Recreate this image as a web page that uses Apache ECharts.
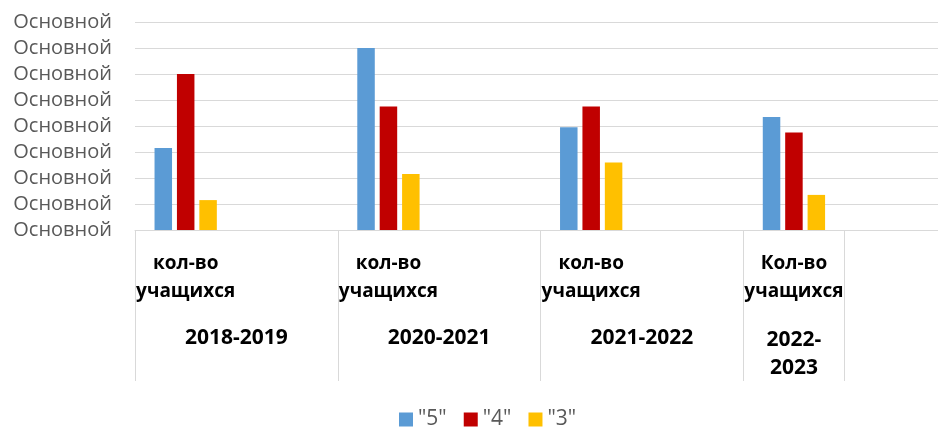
<!DOCTYPE html>
<html>
<head>
<meta charset="utf-8">
<script src="https://cdn.jsdelivr.net/npm/echarts@6/dist/echarts.min.js"></script>
<style>
  html, body { margin: 0; padding: 0; background: #fff; }
  #chart { width: 938px; height: 427px; }
</style>
</head>
<body>
<div id="chart"></div>
<script>
// данные с картинки
const years = ['2018-2019', '2020-2021', '2021-2022', '2022-2023']
const captions = ['кол-во', 'кол-во', 'кол-во', 'Кол-во']
const seriesNames = ['"5"', '"4"', '"3"']
const grade5 = [3.15, 7, 3.95, 4.35]
const grade4 = [6, 4.75, 4.75, 3.75]
const grade3 = [1.15, 2.15, 2.6, 1.35]
const yTickLabels = ['Основной', 'Основной', 'Основной', 'Основной', 'Основной',
  'Основной', 'Основной', 'Основной', 'Основной']
const colors = ['#5B9BD5', '#C00000', '#FFC000']

const font = "'Open Sans', sans-serif"

// каждая категория занимает два слота: в первом столбцы, второй пустой
let slots = []
years.forEach((y) => {
  slots.push(y)
  slots.push(y + ' ')
})
function toSlots(values) {
  let out = []
  values.forEach((v) => {
    out.push(v)
    out.push(null)
  })
  return out
}

let chart = echarts.init(document.getElementById('chart'))

let option = {
  animation: false,
  textStyle: { fontFamily: font },
  grid: {
    left: 135,
    right: -8,
    top: 22,
    bottom: 197,
    outerBoundsMode: 'none',
  },
  legend: {
    data: seriesNames,
    top: 404,
    left: 394,
    icon: 'rect',
    itemWidth: 14,
    itemHeight: 14,
    itemGap: 17,
    textStyle: { color: '#595959', fontSize: 21, fontFamily: font },
  },
  xAxis: [
    {
      type: 'category',
      data: slots,
      position: 'bottom',
      axisLine: { show: true, lineStyle: { color: '#D9D9D9' } },
      axisTick: {
        show: true,
        length: 151,
        interval: (i) => i % 2 === 0 || i === 7,
        lineStyle: { color: '#D9D9D9' },
      },
      axisLabel: {
        interval: 0,
        margin: 20,
        formatter: (value, index) => {
          if (index % 2) return ''
          let k = index / 2
          let txt = `{a|${captions[k]}}\n{a|учащихся}`
          // последняя подпись в узкой ячейке — год переносится
          if (k === 3) txt += '\n{g| }\n{y|2022-}\n{y|2023}'
          return txt
        },
        rich: {
          a: { fontFamily: font, fontWeight: 'bold', fontSize: 19, lineHeight: 28, color: '#000' },
          y: { fontFamily: font, fontWeight: 'bold', fontSize: 21, lineHeight: 28, color: '#000' },
          g: { fontSize: 10, lineHeight: 20 },
        },
      },
    },
    {
      type: 'category',
      data: years,
      position: 'bottom',
      offset: 0,
      axisLine: { show: false },
      axisTick: { show: false },
      axisLabel: {
        interval: 0,
        margin: 94,
        formatter: (value, index) => (index < 3 ? value : ''),
        fontFamily: font,
        fontWeight: 'bold',
        fontSize: 21,
        lineHeight: 28,
        color: '#000',
      },
    },
  ],
  yAxis: {
    type: 'value',
    min: 0,
    max: 8,
    interval: 1,
    axisLine: { show: false },
    axisTick: { show: false },
    splitLine: { lineStyle: { color: '#D9D9D9' } },
    axisLabel: {
      margin: 23,
      color: '#595959',
      fontSize: 20,
      fontFamily: font,
      formatter: (value, index) => yTickLabels[index],
    },
  },
  series: [grade5, grade4, grade3].map((vals, i) => ({
    name: seriesNames[i],
    type: 'bar',
    xAxisIndex: 0,
    barWidth: 17.5,
    barGap: '28%',
    itemStyle: { color: colors[i] },
    data: toSlots(vals),
  })),
}

chart.setOption(option)
</script>
</body>
</html>
